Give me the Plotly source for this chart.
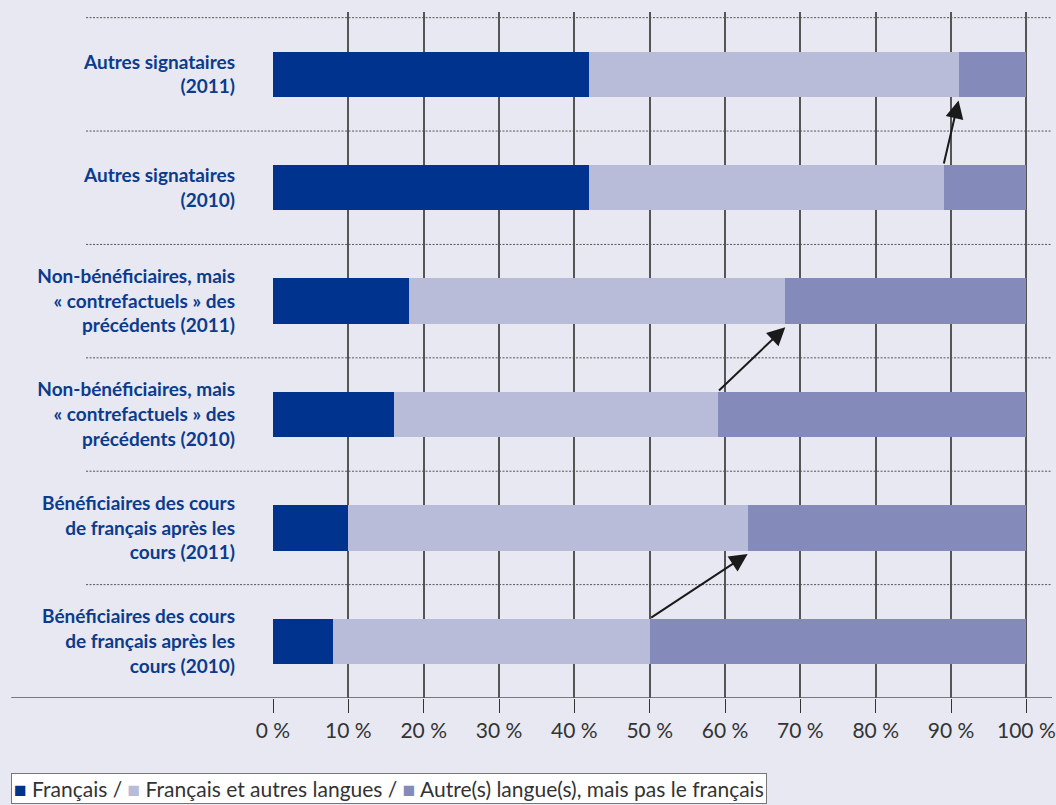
import plotly.graph_objects as go

# categories, bottom to top
categories = [
    "Bénéficiaires des cours<br>de français après les<br>cours (2010)",
    "Bénéficiaires des cours<br>de français après les<br>cours (2011)",
    "Non-bénéficiaires, mais<br>« contrefactuels » des<br>précédents (2010)",
    "Non-bénéficiaires, mais<br>« contrefactuels » des<br>précédents (2011)",
    "Autres signataires<br>(2010)",
    "Autres signataires<br>(2011)",
]
francais = [8, 10, 16, 18, 42, 42]
francais_autres = [42, 53, 43, 50, 47, 49]
autres_langues = [50, 37, 41, 32, 11, 9]

series_names = ["Français", "Français et autres langues",
                "Autre(s) langue(s), mais pas le français"]
series_colors = ["#00338d", "#b8bcd8", "#848ab9"]

# arrows: (from 2010 category, to 2011 category)
arrow_pairs = [(0, 1), (2, 3), (4, 5)]

tick_vals = [0, 10, 20, 30, 40, 50, 60, 70, 80, 90, 100]
tick_text = [f"{v} %" for v in tick_vals]

BAR_W = 0.4
y_idx = list(range(len(categories)))

fig = go.Figure()
for name, vals, col in zip(series_names, [francais, francais_autres, autres_langues], series_colors):
    fig.add_trace(go.Bar(
        y=y_idx, x=vals, name=name, orientation="h",
        marker=dict(color=col, line=dict(width=0)), width=BAR_W,
    ))

# dotted separators between categories
for i in range(len(categories)):
    fig.add_shape(type="line", xref="paper", yref="y",
                  x0=-0.24, x1=1, y0=i + 0.5, y1=i + 0.5,
                  line=dict(color="#555555", width=1, dash="2px,1.5px"))
# bottom solid axis line
fig.add_shape(type="line", xref="paper", yref="y",
              x0=-0.336, x1=1, y0=-0.5, y1=-0.5,
              line=dict(color="#555555", width=1.5))

# arrows from end of mixed segment in 2010 to same in 2011
for a, b in arrow_pairs:
    xa = francais[a] + francais_autres[a]
    xb = francais[b] + francais_autres[b]
    fig.add_annotation(
        x=xb, y=b - BAR_W / 2 - 0.03, ax=xa, ay=a + BAR_W / 2,
        xref="x", yref="y", axref="x", ayref="y",
        text="", showarrow=True, arrowhead=2, arrowsize=1.8,
        arrowwidth=2, arrowcolor="#1a1a1a",
    )

# legend box drawn as one line of text
legend_text = " / ".join(
    f"<span style='color:{c}'>■</span> {n}" for n, c in zip(series_names, series_colors)
)
fig.add_annotation(
    text=legend_text, xref="paper", yref="paper",
    x=-0.336, y=-0.11, xanchor="left", yanchor="top", showarrow=False,
    font=dict(size=21, color="#333333", family="Lato"),
    bgcolor="white", bordercolor="#777777", borderwidth=1, borderpad=2,
)

fig.update_layout(
    width=1056, height=805,
    barmode="stack", bargap=0, showlegend=False,
    paper_bgcolor="#e7e8f2", plot_bgcolor="#e7e8f2",
    margin=dict(l=273, r=0, t=12, b=107),
    font=dict(family="Lato", color="#333333"),
    xaxis=dict(
        range=[0, 103.4], tickvals=tick_vals, ticktext=tick_text,
        showgrid=True, gridcolor="#555555", gridwidth=1.5,
        zeroline=False, ticks="outside", ticklen=14, tickcolor="#333333",
        tickwidth=1, tickfont=dict(size=21, color="#333333"),
        ticklabeloverflow="allow", showline=False, fixedrange=True,
    ),
    yaxis=dict(
        range=[-0.5, 5.55], tickvals=y_idx, ticktext=categories,
        showgrid=False, zeroline=False, ticks="", ticklabelstandoff=37,
        tickfont=dict(size=19, color="#0b3b8c", family="Lato", weight="bold"),
        fixedrange=True,
    ),
)

fig.write_html(
    "out.html",
    config={"displayModeBar": False},
    post_script="document.body.style.margin='0';document.body.style.overflow='hidden';",
)
